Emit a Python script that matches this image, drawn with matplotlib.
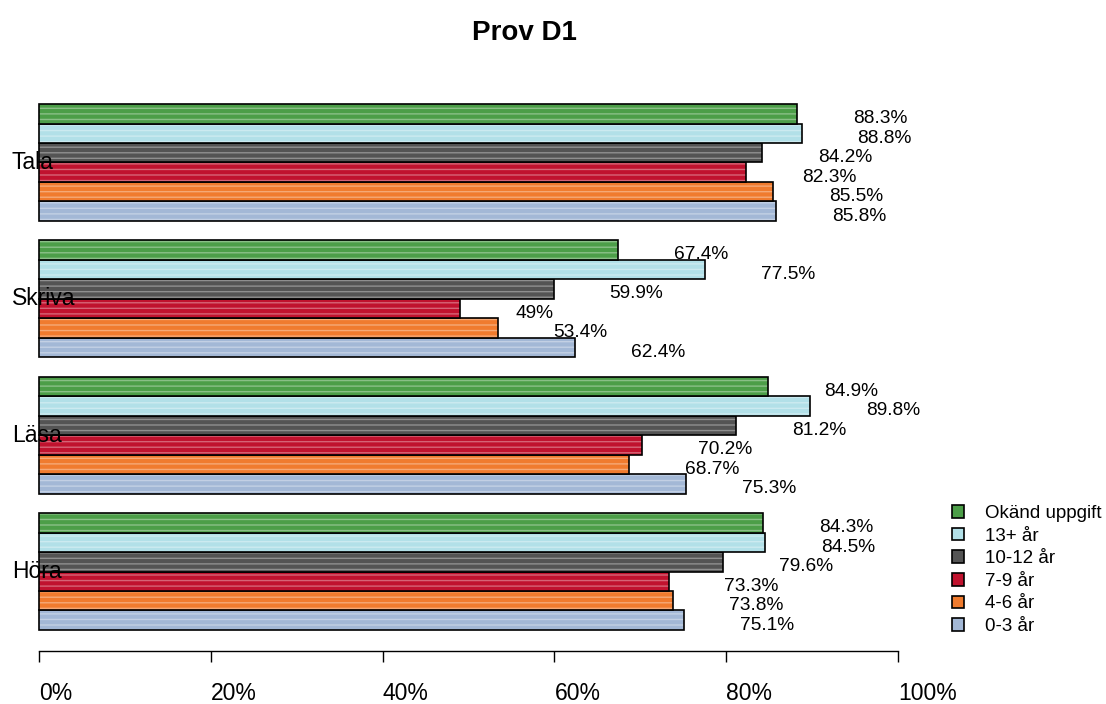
import matplotlib
matplotlib.use('Agg')
import matplotlib.pyplot as plt
from matplotlib.patches import Patch

plt.rcParams['font.family'] = ['Liberation Sans', 'DejaVu Sans']

# skills, bottom group first (as drawn by R's barplot)
skills = ['Höra', 'Läsa', 'Skriva', 'Tala']
# age groups, bottom bar of each group first
ages = ['0-3 år', '4-6 år', '7-9 år', '10-12 år', '13+ år', 'Okänd uppgift']
colors = ['#a3b8d6', '#f07b2e', '#c0122e', '#545454', '#b2e0e8', '#4c9e48']

# percent per age group, in skills order (Höra, Läsa, Skriva, Tala)
age_0_3 = [75.1, 75.3, 62.4, 85.8]
age_4_6 = [73.8, 68.7, 53.4, 85.5]
age_7_9 = [73.3, 70.2, 49.0, 82.3]
age_10_12 = [79.6, 81.2, 59.9, 84.2]
age_13 = [84.5, 89.8, 77.5, 88.8]
unknown = [84.3, 84.9, 67.4, 88.3]
series = [age_0_3, age_4_6, age_7_9, age_10_12, age_13, unknown]

fig = plt.figure(figsize=(11.06, 7.04), dpi=100)
ax = fig.add_axes([0.0, 53 / 704, 1052.6 / 1106, 568 / 704])

for j, (vals, col) in enumerate(zip(series, colors)):
    ys = [1.5 + 7 * g + j for g in range(len(skills))]
    ax.barh(ys, vals, height=1.0, color=col, edgecolor=(1, 1, 1, 0.35),
            linewidth=0, hatch='---')
    ax.barh(ys, vals, height=1.0, fill=False, edgecolor='black', linewidth=1.2)
    for y, v in zip(ys, vals):
        lab = f'{v:g}%'
        ax.text(v + 6.5, y - 0.25, lab, ha='left', va='center', fontsize=13.8)

for g, name in enumerate(skills):
    ax.text(-3.15, 4 + 7 * g, name, ha='left', va='center', fontsize=16.5)

ax.set_xlim(-4.54, 118)
ax.set_ylim(-0.08, 29.08)
for s in ['top', 'right', 'left']:
    ax.spines[s].set_visible(False)
ax.spines['bottom'].set_bounds(0, 100)
ax.spines['bottom'].set_linewidth(1.0)
ax.set_yticks([])
ticks = [0, 20, 40, 60, 80, 100]
ax.set_xticks(ticks)
ax.set_xticklabels([f'{t}%' for t in ticks], fontsize=16.5)
for lbl in ax.get_xticklabels():
    lbl.set_horizontalalignment('left')
ax.tick_params(axis='x', length=8, width=1.0, pad=14)

handles = [Patch(facecolor=c, edgecolor='black', linewidth=1.2, label=a)
           for a, c in zip(ages, colors)][::-1]
fig.legend(handles=handles, loc='upper left', bbox_to_anchor=(952 / 1106, 1 - 505 / 704),
           frameon=False, fontsize=13.5, handlelength=0.65, handleheight=0.65,
           handletextpad=1.1, labelspacing=0.3, borderaxespad=0, borderpad=0)

fig.text(524 / 1106, 1 - 33 / 704, 'Prov D1', ha='center', va='center',
         fontsize=20, fontweight='bold')

fig.savefig('out.png', dpi=100)
